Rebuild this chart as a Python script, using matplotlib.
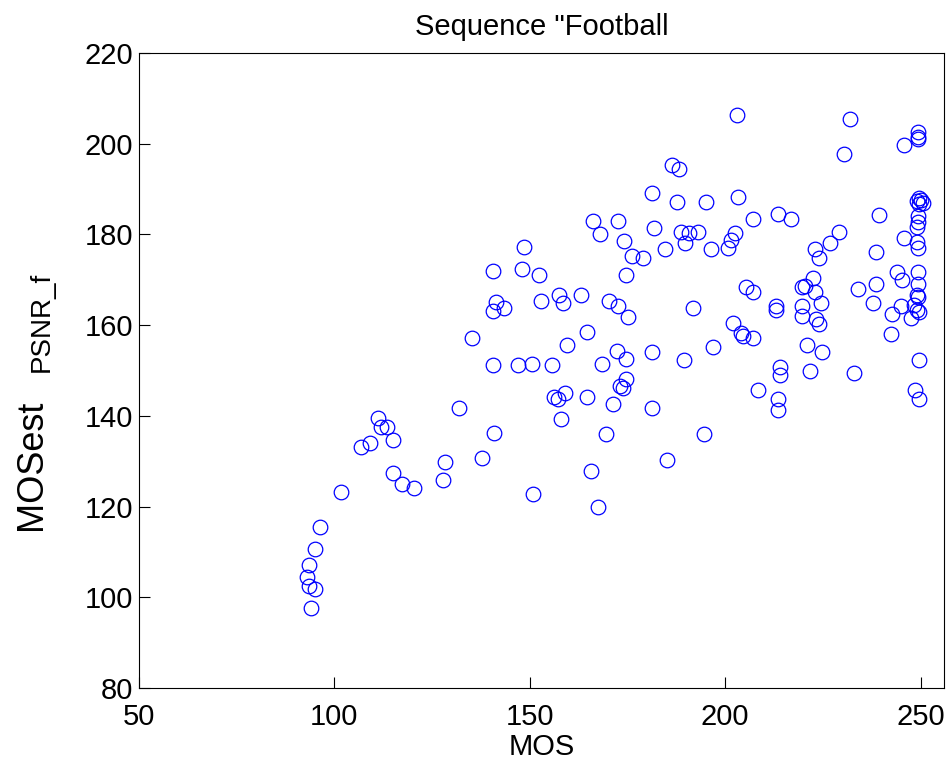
import matplotlib
matplotlib.use("Agg")
import matplotlib.pyplot as plt

plt.rcParams['font.family'] = ['Liberation Sans', 'DejaVu Sans']

# MOS values (x) and estimated MOS from PSNR (y)
mos = [
    # low MOS group
    140.5, 132.0, 140.9, 137.7, 111.1, 112.0, 113.5, 114.9, 109.2, 106.8,
    128.2, 127.7, 114.9, 117.3, 120.5, 101.6, 96.4, 95.0, 93.6, 93.1,
    93.5, 95.0, 94.0, 140.5, 141.4, 143.3, 140.5, 135.3,
    # middle group
    186.3, 188.3, 181.3, 187.8, 195.0, 166.1, 172.7, 168.0, 174.2, 181.7,
    188.7, 190.8, 193.1, 189.8, 184.6, 196.4, 176.1, 178.9, 148.6, 148.1,
    152.3, 174.6, 152.8, 157.6, 158.5, 163.2, 170.4, 172.7, 175.1, 191.7,
    164.7, 159.5, 172.2, 174.6, 181.3, 189.4, 196.8,
    147.1, 150.5, 155.6, 168.5, 174.6, 173.2, 173.8, 158.9, 156.1, 157.2,
    164.7, 171.3, 181.3, 158.0, 169.4, 194.5, 185.0, 165.6, 150.9, 167.5,
    # high MOS group
    203.1, 232.0, 249.4, 249.4, 249.4, 245.8, 230.5, 203.4, 207.2, 213.5,
    216.8, 202.6, 201.6, 200.6, 229.1, 226.7, 223.0, 224.0, 239.4, 238.6,
    245.8, 249.0, 249.7, 250.2, 250.5, 249.5, 249.4, 249.4, 249.0, 249.0,
    249.4, 243.9, 245.3, 249.4, 249.4, 249.0, 249.3, 248.3, 249.6, 249.0,
    242.8, 245.1, 247.6, 238.6, 237.8, 233.9, 242.4, 249.5, 205.4, 207.2,
    213.0, 213.0, 202.1, 204.0, 204.5, 207.2, 219.6, 220.5, 222.4, 223.1,
    224.4, 219.7, 219.7, 223.3, 224.0, 221.0, 224.9,
    214.0, 214.0, 221.6, 232.9, 208.3, 213.5, 213.5, 248.6, 249.5,
]
mos_est = [
    151.1, 141.7, 136.3, 130.7, 139.6, 137.5, 137.5, 134.7, 133.9, 133.1,
    129.8, 125.8, 127.3, 124.9, 124.1, 123.3, 115.5, 110.6, 107.0, 104.5,
    102.5, 101.8, 97.6, 171.9, 165.0, 163.8, 163.0, 157.2,
    195.2, 194.5, 189.1, 187.1, 187.1, 183.0, 183.0, 180.1, 178.5, 181.3,
    180.6, 180.2, 180.5, 178.0, 176.8, 176.8, 175.2, 174.8, 177.2, 172.4,
    171.0, 171.0, 165.4, 166.6, 164.9, 166.6, 165.4, 164.2, 161.7, 163.8,
    158.5, 155.6, 154.3, 152.6, 154.0, 152.4, 155.2,
    151.1, 151.4, 151.1, 151.4, 148.2, 146.6, 146.1, 145.0, 144.2, 143.6,
    144.1, 142.5, 141.7, 139.2, 135.9, 135.9, 130.2, 127.8, 122.8, 120.0,
    206.3, 205.4, 202.5, 201.5, 201.0, 199.7, 197.7, 188.2, 183.4, 184.6,
    183.4, 180.3, 178.7, 177.1, 180.5, 178.0, 176.8, 174.8, 184.2, 176.1,
    179.3, 187.3, 188.0, 187.5, 187.0, 186.8, 184.1, 182.8, 181.7, 178.3,
    176.9, 171.6, 169.9, 171.6, 169.1, 166.6, 166.3, 164.4, 162.8, 163.3,
    162.5, 164.2, 161.6, 169.1, 164.9, 167.9, 158.0, 152.3, 168.3, 167.4,
    164.3, 163.3, 160.5, 158.2, 157.7, 157.2, 168.3, 168.6, 170.3, 167.4,
    164.9, 164.3, 162.1, 161.3, 160.3, 155.6, 154.0,
    150.7, 149.0, 149.8, 149.4, 145.7, 143.7, 141.2, 145.7, 143.6,
]

x_ticks = [50, 100, 150, 200, 250]
y_ticks = [80, 100, 120, 140, 160, 180, 200, 220]

fig = plt.figure(figsize=(9.5, 7.65), dpi=100)
ax = fig.add_axes([0.1463, 0.1007, 0.8474, 0.8301])

ax.plot(mos, mos_est, linestyle='none', marker='o', markersize=10.5,
        markerfacecolor='none', markeredgecolor='#0000ff', markeredgewidth=0.9)

ax.set_xlim(50, 256)
ax.set_ylim(80, 220)
ax.set_xticks(x_ticks)
ax.set_yticks(y_ticks)
ax.tick_params(direction='in', length=8, width=0.8, labelsize=21, colors='black')
ax.tick_params(axis='x', pad=11)
ax.tick_params(axis='y', pad=4)
for sp in ax.spines.values():
    sp.set_linewidth(0.8)
    sp.set_color('black')

ax.set_title('Sequence "Football', fontsize=21, pad=13)
ax.set_xlabel('MOS', fontsize=21, labelpad=1)

# y label: big "MOSest" with a smaller subscript "PSNR_f"
fig.text(31 / 950, 1 - 465 / 765, 'MOSest', fontsize=26, rotation=90,
         ha='center', va='center')
fig.text(42 / 950, 1 - 322 / 765, 'PSNR_f', fontsize=20, rotation=90,
         ha='center', va='center')

fig.savefig('out.png', dpi=100)
plt.close(fig)
